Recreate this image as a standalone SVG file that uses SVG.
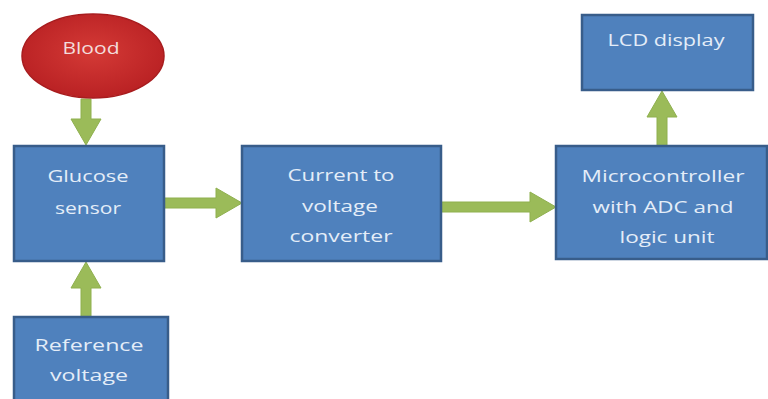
<svg xmlns="http://www.w3.org/2000/svg" width="768" height="399" viewBox="0 0 768 399">
<defs>
<radialGradient id="red" cx="50%" cy="45%" r="60%">
<stop offset="0" stop-color="#d43a36"/>
<stop offset="1" stop-color="#b71f22"/>
</radialGradient>
<style>
.box{fill:#4f81bd;stroke:#385d8a;stroke-width:2.5}
.t{font-family:"Open Sans","Liberation Sans",sans-serif;font-size:16px;fill:#e4edf8;text-anchor:middle}
.arr{fill:#9bbb59;stroke:#8fb04f;stroke-width:1}
</style>
</defs>
<rect width="768" height="399" fill="#ffffff"/>
<g id="connectors">
<polygon class="arr" points="81,99 91,99 91,119 101,119 86,145 71,119 81,119"/>
<polygon class="arr" points="81,317 91,317 91,288 101,288 86,262 71,288 81,288"/>
<polygon class="arr" points="164,198 216,198 216,188 242,203 216,218 216,208 164,208"/>
<polygon class="arr" points="441,202 530,202 530,192 556,207 530,222 530,212 441,212"/>
<polygon class="arr" points="657,146 667,146 667,117 677,117 662,91 647,117 657,117"/>
</g>
<g id="blood">
<ellipse cx="93" cy="56" rx="71" ry="42" fill="url(#red)" stroke="#a81c1e" stroke-width="1.5"/>
<text class="t" x="91" y="54" style="fill:#f3dcdc" textLength="57" lengthAdjust="spacingAndGlyphs">Blood</text>
</g>
<g id="glucose">
<rect class="box" x="14" y="146" width="150" height="115"/>
<text class="t" x="88" y="182" textLength="81" lengthAdjust="spacingAndGlyphs">Glucose</text>
<text class="t" x="88" y="214" textLength="66" lengthAdjust="spacingAndGlyphs">sensor</text>
</g>
<g id="reference">
<rect class="box" x="14" y="317" width="154" height="90"/>
<text class="t" x="89" y="351" textLength="109" lengthAdjust="spacingAndGlyphs">Reference</text>
<text class="t" x="89" y="381" textLength="78" lengthAdjust="spacingAndGlyphs">voltage</text>
</g>
<g id="converter">
<rect class="box" x="242" y="146" width="199" height="115"/>
<text class="t" x="341" y="181" textLength="107" lengthAdjust="spacingAndGlyphs">Current to</text>
<text class="t" x="340" y="212" textLength="76" lengthAdjust="spacingAndGlyphs">voltage</text>
<text class="t" x="341" y="242" textLength="103" lengthAdjust="spacingAndGlyphs">converter</text>
</g>
<g id="microcontroller">
<rect class="box" x="556" y="146" width="211" height="113"/>
<text class="t" x="663" y="182" textLength="163" lengthAdjust="spacingAndGlyphs">Microcontroller</text>
<text class="t" x="663" y="213" textLength="141" lengthAdjust="spacingAndGlyphs">with ADC and</text>
<text class="t" x="667" y="243" textLength="95" lengthAdjust="spacingAndGlyphs">logic unit</text>
</g>
<g id="lcd">
<rect class="box" x="582" y="15" width="171" height="75"/>
<text class="t" x="666" y="46" textLength="117" lengthAdjust="spacingAndGlyphs">LCD display</text>
</g>
</svg>
